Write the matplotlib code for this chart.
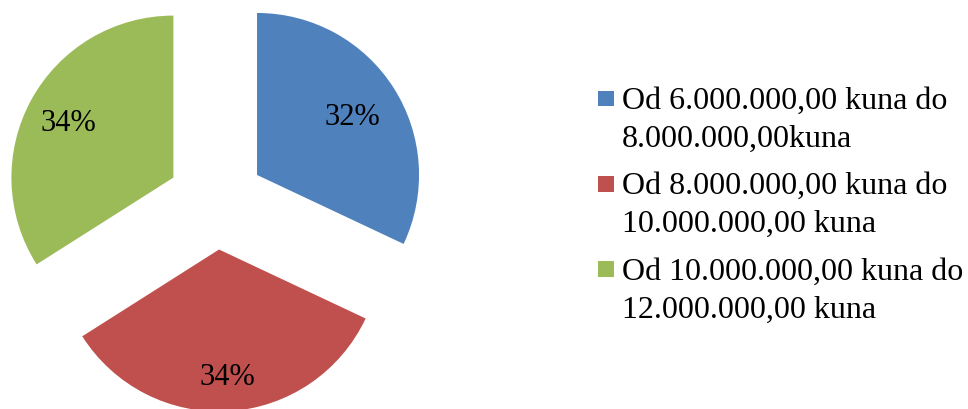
import numpy as np
import matplotlib
matplotlib.use("Agg")
import matplotlib.pyplot as plt
from matplotlib.patches import Rectangle
from matplotlib.legend_handler import HandlerPatch

# donnees du graphique
kategorije = ["Od 6.000.000,00 kuna do\n8.000.000,00kuna",
              "Od 8.000.000,00 kuna do\n10.000.000,00 kuna",
              "Od 10.000.000,00 kuna do\n12.000.000,00 kuna"]
postoci = [32, 34, 34]
boje = ["#4F81BD", "#C0504D", "#9BBB59"]

plt.rcParams['font.family'] = ['Liberation Serif', 'DejaVu Serif']

fig = plt.figure(figsize=(9.68, 4.09), dpi=100)
ax = fig.add_axes([0, 0, 1, 1])

wedges, texts, autotexts = ax.pie(postoci, colors=boje, startangle=90, counterclock=False,
                                  explode=[0.3] * 3, autopct='%.0f%%', pctdistance=0.72,
                                  textprops={'fontsize': 22, 'color': 'black'},
                                  wedgeprops={'linewidth': 0})

# echelle : 162 px par rayon, centre a (216, 201) px
scale = 162.0
cx, cy = 216.0, 409 - 201.0
ax.set_xlim(-cx / scale, (968 - cx) / scale)
ax.set_ylim(-cy / scale, (409 - cy) / scale)
ax.set_aspect('equal')
ax.axis('off')

# distance des etiquettes (un peu differente pour chaque part, comme dans Excel)
dist = [0.70, 0.77, 0.74]
for w, t, d in zip(wedges, autotexts, dist):
    th = np.deg2rad((w.theta1 + w.theta2) / 2)
    t.set_position((w.center[0] + d * w.r * np.cos(th), w.center[1] + d * w.r * np.sin(th)))
    t.set_va('center_baseline')


def carre(legend, orig_handle, xdescent, ydescent, width, height, fontsize):
    # petit carre aligne sur la premiere ligne
    sz = 0.5 * fontsize
    return Rectangle((-xdescent, -ydescent + 1.28 * fontsize - sz), sz, sz)


leg = fig.legend(wedges, kategorije, loc='upper left', bbox_to_anchor=(598 / 968, 1 - 87 / 409),
                 frameon=False, fontsize=23, handlelength=0.5, handletextpad=0.25,
                 labelspacing=0.58, borderpad=0, borderaxespad=0,
                 handler_map={w: HandlerPatch(patch_func=carre) for w in wedges})
for t in leg.get_texts():
    t.set_linespacing(1.40)

fig.savefig("out.png", dpi=100)
